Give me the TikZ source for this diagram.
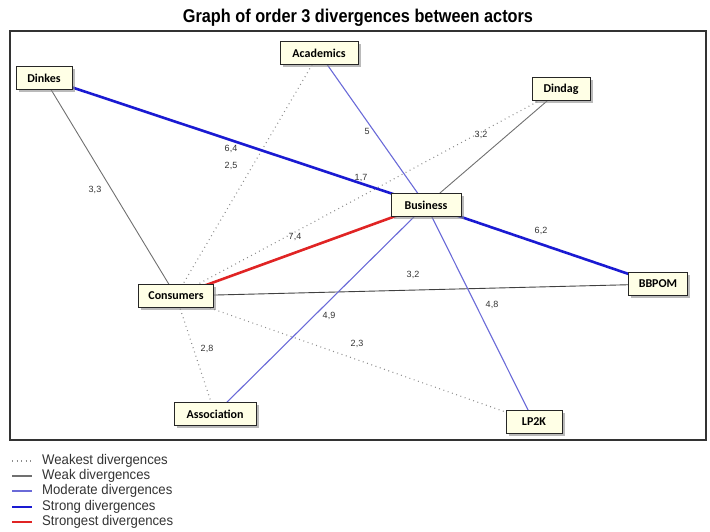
\documentclass[tikz,border=0pt]{standalone}
\usepackage{fontspec}
\setmainfont{Liberation Sans}
\newfontfamily\boxfont{Carlito}
\usetikzlibrary{shadows,backgrounds}
\definecolor{boxfill}{HTML}{FFFFE6}
\definecolor{strongblue}{HTML}{1A1AD2}
\definecolor{modblue}{HTML}{6A6AD8}
\definecolor{weakgray}{HTML}{707070}
\definecolor{dotgray}{HTML}{8C8C8C}
\definecolor{redline}{HTML}{E02424}
\tikzset{
  actor/.style={draw=black!85, fill=boxfill, line width=0.8pt, minimum height=23pt,
    inner xsep=2pt, font=\boxfont\bfseries\fontsize{12}{13}\selectfont,
    drop shadow={shadow xshift=2.5pt, shadow yshift=-2.5pt, fill=black!45, opacity=.6}},
  weakest/.style={draw=dotgray, line width=1.1pt, dash pattern=on 0.9pt off 3.6pt},
  weak/.style={draw=weakgray, line width=0.9pt},
  moderate/.style={draw=modblue, line width=1.1pt},
  strong/.style={draw=strongblue, line width=2.6pt},
  strongest/.style={draw=redline, line width=2.6pt},
  elabel/.style={font=\fontsize{9}{10}\selectfont, text=black!80, inner sep=0.5pt},
  legtext/.style={anchor=west, inner sep=0pt, text=black!80, font=\fontsize{14}{15}\selectfont},
}
\begin{document}
\begin{tikzpicture}[x=1pt,y=-1pt]
\useasboundingbox (0,0) rectangle (710,532);
% title
\node[font=\bfseries\fontsize{18.5}{20}\selectfont] (title) at (358,18) {\scalebox{0.88}[1]{Graph of order 3 divergences between actors}};
% frame
\draw[draw=black!80, line width=1.1pt] (10,31) rectangle (706,440);

% actors
\node[actor, minimum width=56pt] (dinkes) at (44,78) {Dinkes};
\node[actor, minimum width=78pt] (academics) at (319,53) {Academics};
\node[actor, minimum width=58pt] (dindag) at (561,89) {Dindag};
\node[actor, minimum width=70pt] (business) at (426,205) {Business};
\node[actor, minimum width=59pt] (bbpom) at (658,284) {BBPOM};
\node[actor, minimum width=75pt] (consumers) at (176,296) {Consumers};
\node[actor, minimum width=82pt] (association) at (215,414) {Association};
\node[actor, minimum width=56pt] (lp2k) at (534,422) {LP2K};

\begin{scope}[on background layer]
\draw[weak] (dinkes.center) -- (consumers.center);
\draw[weakest] (academics.center) -- (consumers.center);
\draw[weakest] (dindag.center) -- (consumers.center);
\draw[weakest] (consumers.center) -- (association.center);
\draw[weakest] (consumers.center) -- (lp2k.center);
\draw[weak] (dindag.center) -- (business.center);
\draw[draw=black!75, line width=0.9pt] (consumers.center) -- (bbpom.center);
\draw[moderate] (academics.center) -- (business.center);
\draw[moderate] (business.center) -- (lp2k.center);
\draw[moderate] (business.center) -- (association.center);
\draw[strong] (dinkes.center) -- (business.center);
\draw[strong] (business.center) -- (bbpom.center);
\draw[strongest] (consumers.center) -- (business.center);
\end{scope}

% edge labels
\node[elabel] (l64) at (231,149) {6,4};
\node[elabel] (l25) at (231,166) {2,5};
\node[elabel] (l17) at (361,178) {1,7};
\node[elabel] (l5) at (367,131) {5};
\node[elabel] (l32a) at (481,135) {3,2};
\node[elabel] (l33) at (95,190) {3,3};
\node[elabel] (l74) at (295,237) {7,4};
\node[elabel] (l62) at (541,231) {6,2};
\node[elabel] (l32b) at (413,275) {3,2};
\node[elabel] (l48) at (492,305) {4,8};
\node[elabel] (l49) at (329,316) {4,9};
\node[elabel] (l28) at (207,349) {2,8};
\node[elabel] (l23) at (357,344) {2,3};

% legend
\coordinate (k1a) at (12,461); \coordinate (k1b) at (32,461);
\coordinate (k2a) at (12,476); \coordinate (k2b) at (32,476);
\coordinate (k3a) at (12,491); \coordinate (k3b) at (32,491);
\coordinate (k4a) at (12,507); \coordinate (k4b) at (32,507);
\coordinate (k5a) at (12,522); \coordinate (k5b) at (32,522);
\draw[weakest] (k1a) -- (k1b);
\draw[weak, line width=1.4pt] (k2a) -- (k2b);
\draw[moderate, line width=1.6pt] (k3a) -- (k3b);
\draw[strong, line width=2pt] (k4a) -- (k4b);
\draw[strongest, line width=2pt] (k5a) -- (k5b);
\node[legtext] (t1) at (42,461) {\scalebox{0.94}[1]{Weakest divergences}};
\node[legtext] (t2) at (42,476) {\scalebox{0.94}[1]{Weak divergences}};
\node[legtext] (t3) at (42,491) {\scalebox{0.94}[1]{Moderate divergences}};
\node[legtext] (t4) at (42,507) {\scalebox{0.94}[1]{Strong divergences}};
\node[legtext] (t5) at (42,522) {\scalebox{0.94}[1]{Strongest divergences}};
\end{tikzpicture}
\end{document}
